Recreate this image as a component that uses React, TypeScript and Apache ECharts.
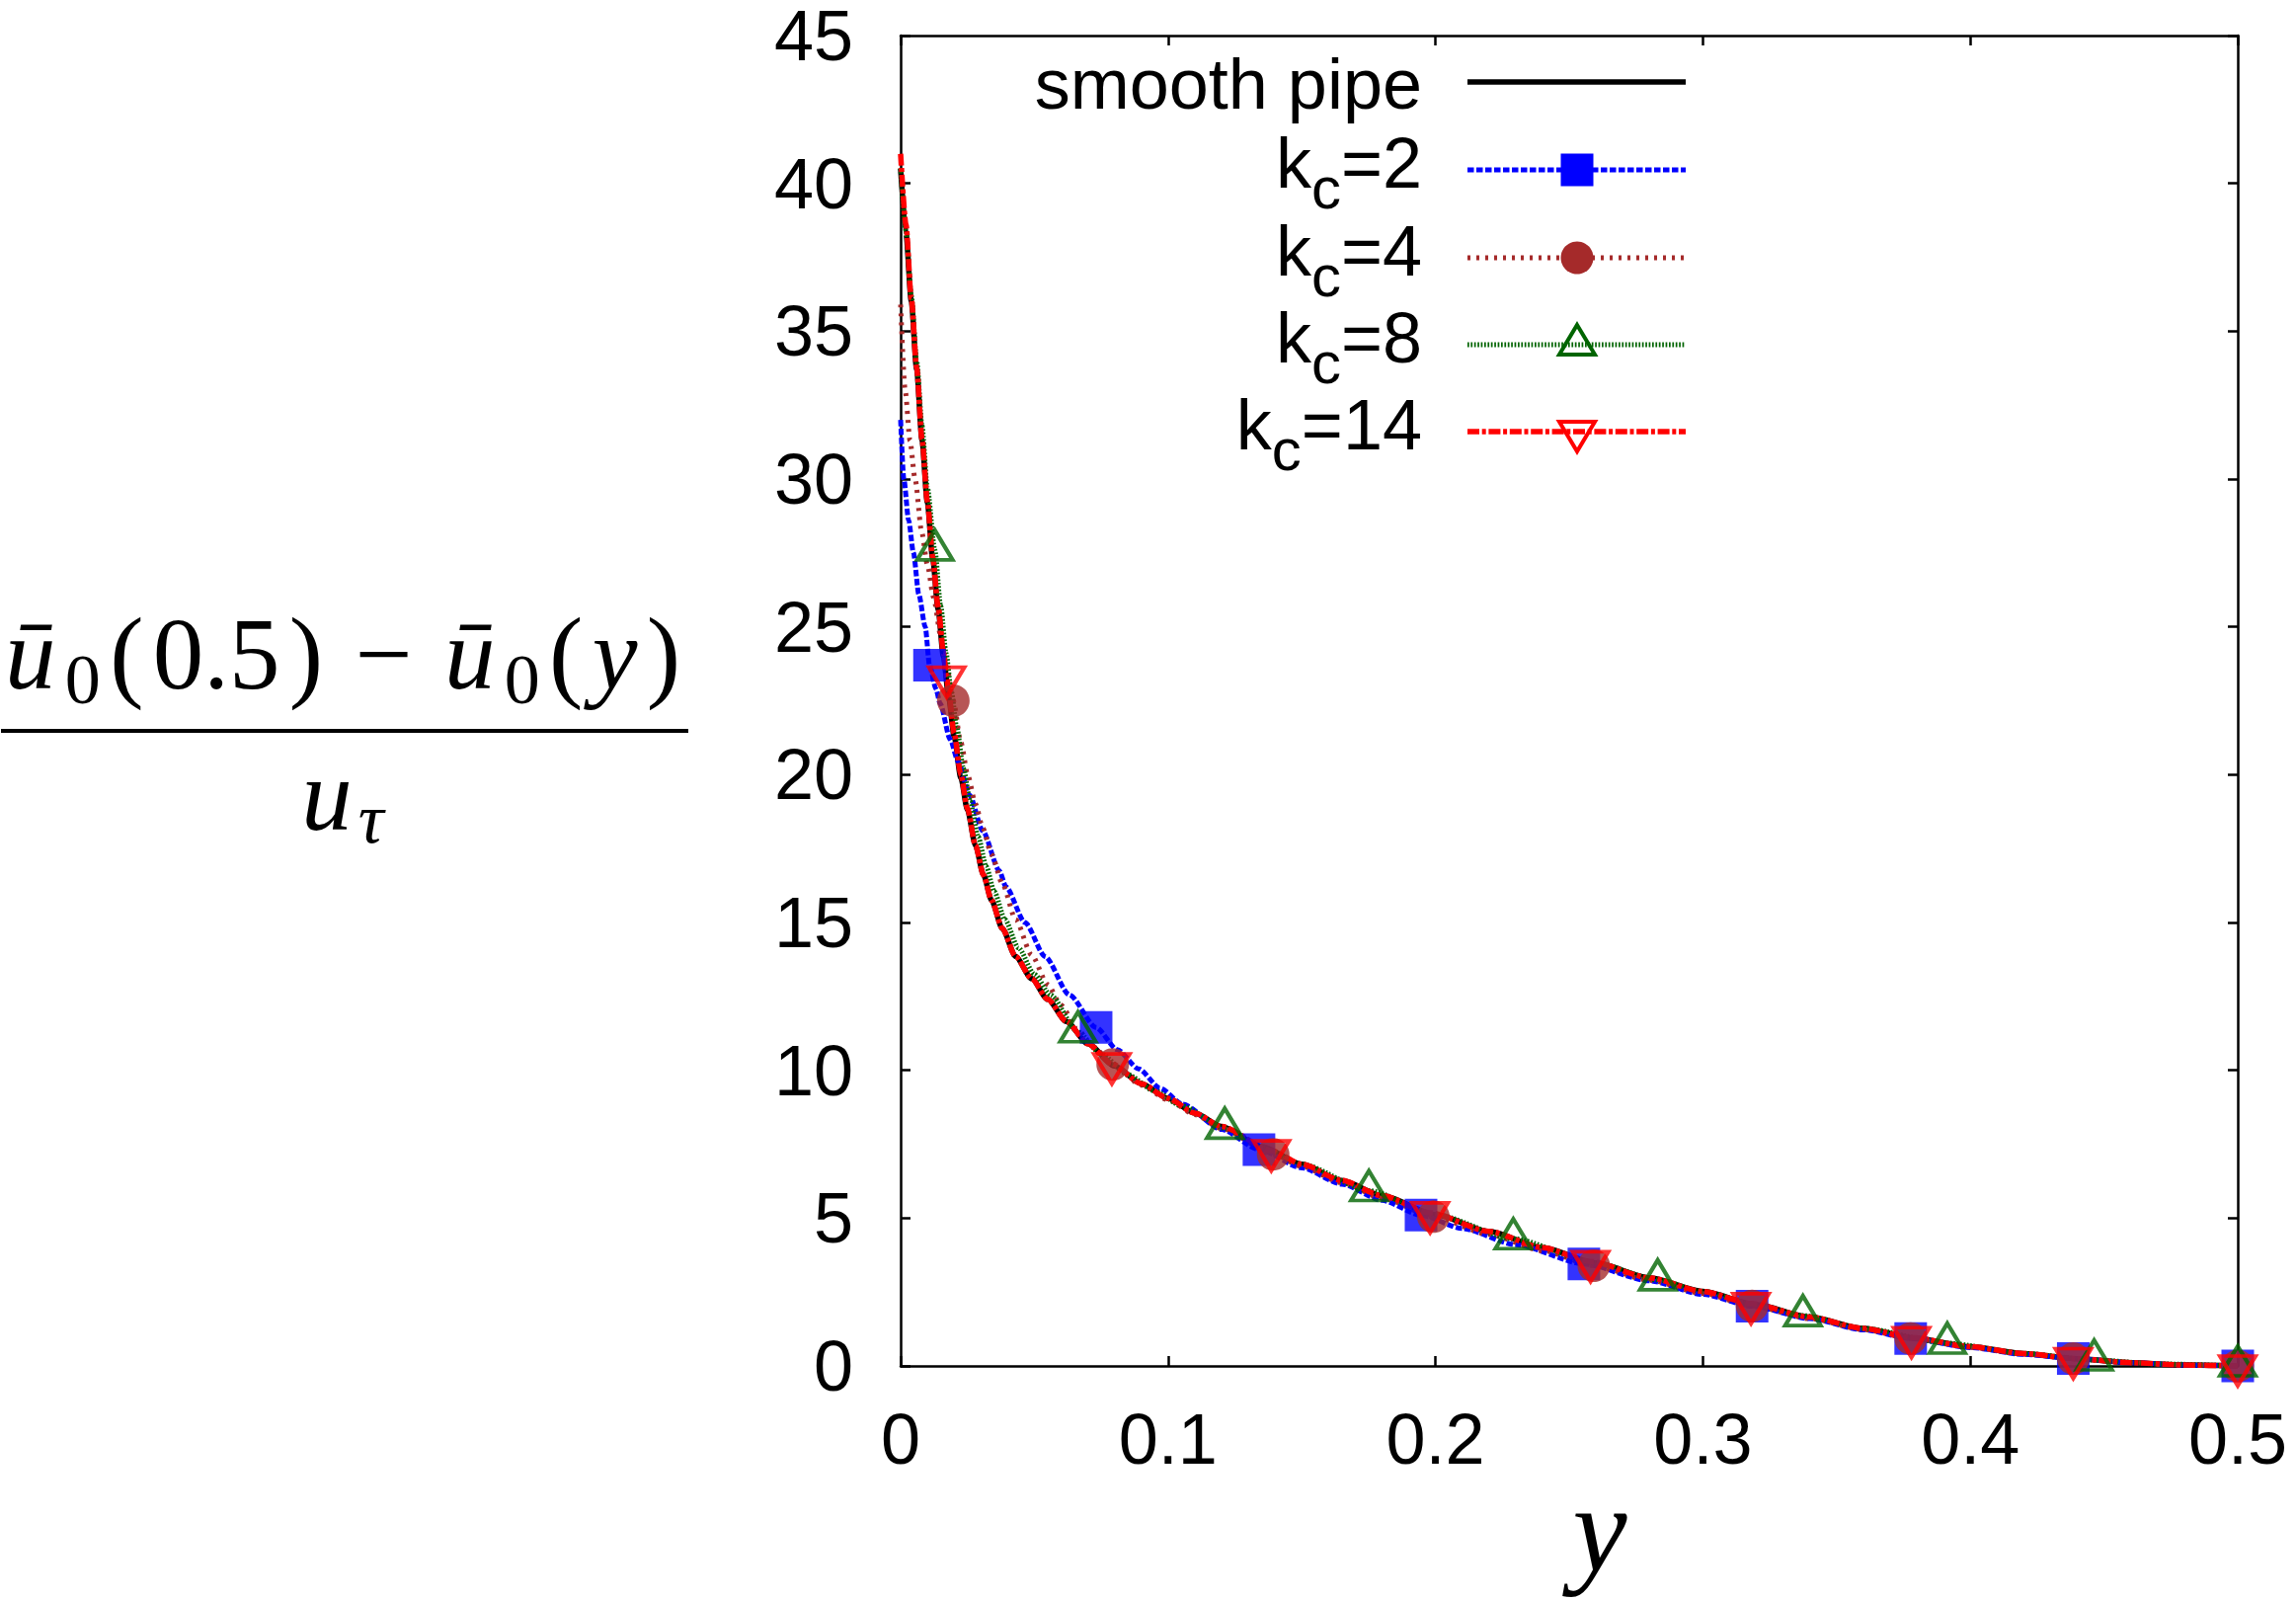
import React, { useEffect, useRef } from 'react';
import * as echarts from 'echarts';

const W = 2325;
const H = 1621;

// ---------------- data ----------------
const xTickLabels = ['0', '0.1', '0.2', '0.3', '0.4', '0.5'];
const yTickLabels = ['0', '5', '10', '15', '20', '25', '30', '35', '40', '45'];

const seriesNames = ['smooth pipe', 'kc=2', 'kc=4', 'kc=8', 'kc=14'];
const legendLabels = [
  { base: 'smooth pipe', sub: '', tail: '' },
  { base: 'k', sub: 'c', tail: '=2' },
  { base: 'k', sub: 'c', tail: '=4' },
  { base: 'k', sub: 'c', tail: '=8' },
  { base: 'k', sub: 'c', tail: '=14' },
];

const smoothPipe: number[][] = [
  [0, 40.5], [0.002, 38.3], [0.004, 36.0], [0.006, 33.7], [0.008, 31.3], [0.010, 29.2],
  [0.012, 27.3], [0.014, 25.6], [0.016, 24.0], [0.018, 22.6], [0.020, 21.3], [0.0225, 19.9],
  [0.025, 18.8], [0.028, 17.6], [0.031, 16.6], [0.034, 15.75], [0.038, 14.8], [0.043, 13.85],
  [0.049, 13.1], [0.055, 12.4], [0.062, 11.65], [0.070, 10.9], [0.080, 10.15], [0.090, 9.55],
  [0.100, 9.05], [0.110, 8.55], [0.120, 8.1], [0.135, 7.42], [0.150, 6.82], [0.165, 6.27],
  [0.180, 5.76], [0.200, 5.12], [0.220, 4.55], [0.240, 4.0], [0.260, 3.48], [0.280, 2.98],
  [0.300, 2.52], [0.320, 2.07], [0.340, 1.65], [0.360, 1.27], [0.380, 0.93], [0.400, 0.65],
  [0.420, 0.42], [0.440, 0.24], [0.460, 0.11], [0.480, 0.03], [0.500, 0],
];

const kc2Line: number[][] = [
  [0, 32.0], [0.0012, 30.0], [0.003, 28.6], [0.0048, 27.5], [0.0068, 26.1], [0.0092, 25.0],
  [0.0132, 22.9], [0.0148, 22.4], [0.0185, 21.2], [0.0215, 20.45], [0.0258, 19.3],
  [0.0307, 18.1], [0.0369, 16.75], [0.0394, 16.2], [0.0465, 15.0], [0.054, 13.85],
  [0.0631, 12.55], [0.081, 10.7], [0.089, 10.05], [0.097, 9.4], [0.1055, 8.85], [0.12, 8.0],
  [0.15, 6.7], [0.165, 6.15], [0.18, 5.6], [0.21, 4.65], [0.23, 4.1], [0.28, 2.88],
  [0.30, 2.42], [0.34, 1.6], [0.36, 1.22], [0.40, 0.62], [0.42, 0.39], [0.46, 0.11], [0.48, 0.03],
];
const kc2Marks: number[][] = [
  [0.0108, 23.7], [0.0731, 11.45], [0.134, 7.32], [0.1946, 5.1], [0.2555, 3.45],
  [0.3184, 2.02], [0.3777, 0.93], [0.4385, 0.25], [0.5, 0],
];

const kc4Line: number[][] = [
  [0, 35.9], [0.0017, 33.0], [0.0035, 31.3], [0.0054, 30.0], [0.0079, 28.2], [0.010, 27.1],
  [0.0123, 26.0], [0.015, 24.7], [0.0175, 23.5], [0.0225, 21.1], [0.0252, 19.95],
  [0.028, 19.0], [0.0307, 18.2], [0.034, 17.3], [0.0381, 16.3], [0.043, 15.1], [0.049, 13.9],
  [0.055, 12.9], [0.060, 12.2], [0.066, 11.4], [0.072, 10.8], [0.09, 9.5], [0.1, 9.0],
  [0.11, 8.5], [0.12, 8.03], [0.15, 6.75], [0.165, 6.2], [0.18, 5.68], [0.22, 4.45],
  [0.24, 3.9], [0.28, 2.9], [0.30, 2.45], [0.34, 1.6], [0.36, 1.23], [0.40, 0.63],
  [0.42, 0.4], [0.46, 0.11], [0.48, 0.03],
];
const kc4Marks: number[][] = [
  [0.0197, 22.5], [0.0793, 10.2], [0.1393, 7.16], [0.1992, 5.05], [0.2592, 3.39],
  [0.3184, 2.03], [0.3777, 0.93], [0.4385, 0.25], [0.5, 0],
];

const kc8Line: number[][] = [
  [0, 40.5], [0.002, 38.4], [0.004, 36.2], [0.006, 34.0], [0.008, 31.8], [0.010, 29.7],
  [0.015, 25.7], [0.017, 24.1], [0.019, 22.8], [0.021, 21.6], [0.0235, 20.2], [0.026, 19.1],
  [0.029, 17.9], [0.032, 16.9], [0.035, 16.05], [0.039, 15.1], [0.044, 14.15], [0.050, 13.25],
  [0.056, 12.55], [0.075, 10.55], [0.085, 9.85], [0.095, 9.3], [0.105, 8.8], [0.135, 7.42],
  [0.150, 6.82], [0.200, 5.12], [0.260, 3.48], [0.300, 2.52], [0.320, 2.07], [0.360, 1.27],
  [0.420, 0.42], [0.470, 0.07],
];
const kc8Marks: number[][] = [
  [0.0128, 27.6], [0.0663, 11.3], [0.1212, 8.04], [0.1751, 5.93], [0.2291, 4.3],
  [0.2831, 2.91], [0.3374, 1.7], [0.3914, 0.77], [0.4463, 0.2], [0.5, 0],
];

const kc14Line: number[][] = [
  [0, 41.0], [0.002, 38.6], [0.004, 36.1], [0.006, 33.75], [0.008, 31.35], [0.010, 29.25],
  [0.012, 27.35], [0.014, 25.7], [0.016, 24.15], [0.018, 22.75], [0.020, 21.4], [0.0225, 20.0],
  [0.025, 18.85], [0.028, 17.6], [0.031, 16.6], [0.034, 15.75], [0.038, 14.8], [0.043, 13.85],
  [0.049, 13.1], [0.055, 12.4], [0.062, 11.65], [0.070, 10.9], [0.090, 9.55], [0.100, 9.05],
  [0.110, 8.55], [0.120, 8.1], [0.150, 6.82], [0.165, 6.27], [0.180, 5.76], [0.220, 4.55],
  [0.240, 4.0], [0.280, 2.98], [0.300, 2.52], [0.340, 1.65], [0.360, 1.27], [0.400, 0.65],
  [0.420, 0.42], [0.460, 0.11], [0.480, 0.03],
];
const kc14Marks: number[][] = [
  [0.0172, 23.3], [0.079, 10.22], [0.1386, 7.28], [0.198, 5.18], [0.258, 3.53],
  [0.318, 2.11], [0.378, 0.96], [0.4385, 0.25], [0.5, 0],
];

// ---------------- styles ----------------
const colors = ['#000000', '#0000ff', '#a52a2a', '#006400', '#ff0000'];
const lineWidths = [5.5, 5, 5, 5, 5.5];
const dashes: (number[] | null)[] = [null, [6.5, 2.5], [3, 6], [1.7, 1.7], [12, 2.7, 4, 2.7]];

const SANS = 'Liberation Sans';
const SERIF = 'Liberation Serif';

function merge(line: number[][], marks: number[][]): number[][] {
  return [...line, ...marks].sort((a, b) => a[0] - b[0]);
}

const measureCtx = (() => {
  const c = document.createElement('canvas');
  return c.getContext('2d') as CanvasRenderingContext2D;
})();
function tw(text: string, size: number, family: string, italic = false): number {
  measureCtx.font = `${italic ? 'italic ' : ''}${size}px "${family}"`;
  return measureCtx.measureText(text).width;
}

function txt(text: string, x: number, baseline: number, size: number, family: string, opts: any = {}) {
  const central = family === SERIF ? 0.3375 : 0.3465;
  return {
    type: 'text',
    x,
    y: baseline - central * size,
    silent: true,
    style: {
      text,
      fontSize: size,
      fontFamily: family,
      fontStyle: opts.italic ? 'italic' : 'normal',
      fill: '#000',
      align: opts.align || 'left',
      verticalAlign: 'middle',
      lineHeight: Math.round(size * 0.8),
    },
  };
}

function buildGraphics(): any[] {
  const g: any[] = [];
  // --- y-axis label: fraction ---
  const F = 103;
  const S = 72;
  const numer = [
    { t: 'ū', it: true, s: F, dy: 0, pad: 0 },
    { t: '0', it: false, s: S, dy: 15, pad: 0 },
    { t: '(', it: false, s: F, dy: 0, pad: 0 },
    { t: '0.5', it: false, s: F, dy: 0, pad: 0 },
    { t: ')', it: false, s: F, dy: 0, pad: 0 },
    { t: '−', it: false, s: F, dy: 0, pad: 23 },
    { t: 'ū', it: true, s: F, dy: 0, pad: 0 },
    { t: '0', it: false, s: S, dy: 15, pad: 0 },
    { t: '(', it: false, s: F, dy: 0, pad: 0 },
    { t: 'y', it: true, s: F, dy: 0, pad: 0 },
    { t: ')', it: false, s: F, dy: 0, pad: 0 },
  ];
  const widths = numer.map((p) => tw(p.t, p.s, SERIF, p.it) + 2 * p.pad);
  const natural = widths.reduce((a, b) => a + b, 0);
  const target = 684;
  const extra = Math.max(0, (target - natural) / (numer.length - 1));
  const total = natural + extra * (numer.length - 1);
  let cx = 347 - total / 2;
  const numBase = 697;
  numer.forEach((p, i) => {
    g.push(txt(p.t, cx + p.pad, numBase + p.dy, p.s, SERIF, { italic: p.it }));
    cx += widths[i] + extra;
  });
  g.push({
    type: 'line',
    silent: true,
    shape: { x1: 1, y1: 740, x2: 697, y2: 740 },
    style: { stroke: '#000', lineWidth: 4 },
  });
  const wu = tw('u', F, SERIF, true);
  const wt = tw('τ', S, SERIF, true);
  const dTotal = wu + 6 + wt;
  const dx = 347 - dTotal / 2;
  g.push(txt('u', dx, 840, F, SERIF, { italic: true }));
  g.push(txt('τ', dx + wu + 6, 853, S, SERIF, { italic: true }));

  // --- x-axis label ---
  g.push(txt('y', 1620, 1590, 124, SERIF, { italic: true, align: 'center' }));

  // --- legend ---
  const rows = [83, 172, 261, 349, 437];
  const textRight = 1440;
  const lx1 = 1486;
  const lx2 = 1707;
  const mx = 1597;
  legendLabels.forEach((lab, i) => {
    const ry = rows[i];
    if (!lab.sub) {
      g.push(txt(lab.base, textRight, ry + 27, 72, SANS, { align: 'right' }));
    } else {
      const base = ry + 18;
      const wTail = tw(lab.tail, 72, SANS);
      const wSub = tw(lab.sub, 60, SANS);
      g.push(txt(lab.tail, textRight, base, 72, SANS, { align: 'right' }));
      g.push(txt(lab.sub, textRight - wTail, base + 21, 60, SANS, { align: 'right' }));
      g.push(txt(lab.base, textRight - wTail - wSub, base, 72, SANS, { align: 'right' }));
    }
    const ls: any = { stroke: colors[i], lineWidth: lineWidths[i] };
    if (dashes[i]) ls.lineDash = dashes[i];
    g.push({ type: 'line', silent: true, shape: { x1: lx1, y1: ry, x2: lx2, y2: ry }, style: ls });
    if (i === 1) {
      g.push({ type: 'rect', silent: true, shape: { x: mx - 16.5, y: ry - 16.5, width: 33, height: 33 }, style: { fill: colors[1] } });
    } else if (i === 2) {
      g.push({ type: 'circle', silent: true, shape: { cx: mx, cy: ry, r: 16.5 }, style: { fill: colors[2] } });
    } else if (i === 3) {
      const c = ry - 5;
      g.push({
        type: 'polygon', silent: true,
        shape: { points: [[mx, c - 15], [mx + 18, c + 15], [mx - 18, c + 15]] },
        style: { fill: 'none', stroke: colors[3], lineWidth: 4 },
      });
    } else if (i === 4) {
      const c = ry + 5;
      g.push({
        type: 'polygon', silent: true,
        shape: { points: [[mx - 18, c - 15], [mx + 18, c - 15], [mx, c + 15]] },
        style: { fill: 'none', stroke: colors[4], lineWidth: 4 },
      });
    }
  });
  return g;
}

function lineSeries(i: number, data: number[][]) {
  const ls: any = { color: colors[i], width: lineWidths[i], type: dashes[i] ? dashes[i] : 'solid' };
  return {
    name: seriesNames[i],
    type: 'line',
    data,
    showSymbol: false,
    symbol: 'none',
    smooth: 0.25,
    smoothMonotone: 'x',
    clip: false,
    lineStyle: ls,
    silent: true,
    z: 2,
  };
}

function markSeries(i: number, data: number[][], extra: any) {
  return {
    name: seriesNames[i] + ' marks',
    type: 'scatter',
    data,
    clip: false,
    silent: true,
    z: 2,
    ...extra,
  };
}

export default function App() {
  const ref = useRef<HTMLDivElement>(null);
  useEffect(() => {
    if (!ref.current) return;
    const chart = echarts.init(ref.current, null, { renderer: 'svg', width: W, height: H });
    const axisCommon = {
      type: 'value',
      axisLine: { show: true, onZero: false, lineStyle: { color: '#000', width: 2.5 } },
      axisTick: { show: true, inside: true, length: 10, lineStyle: { color: '#000', width: 2.5 } },
      splitLine: { show: false },
      minorTick: { show: false },
    };
    const option: any = {
      animation: false,
      backgroundColor: '#ffffff',
      grid: { left: 912, top: 29, width: 1354, height: 1354, containLabel: false },
      xAxis: [
        {
          ...axisCommon,
          min: 0, max: 0.5, interval: 0.1, position: 'bottom',
          axisLabel: {
            show: true, margin: 46, fontSize: 72, lineHeight: 56, fontFamily: SANS, color: '#000',
            formatter: (v: number) => xTickLabels[Math.round(v * 10)],
          },
        },
        {
          ...axisCommon,
          min: 0, max: 0.5, interval: 0.1, position: 'top',
          axisLabel: { show: false },
        },
      ],
      yAxis: [
        {
          ...axisCommon,
          min: 0, max: 45, interval: 5, position: 'left',
          axisLabel: {
            show: true, margin: 48, fontSize: 72, lineHeight: 56, fontFamily: SANS, color: '#000',
            formatter: (v: number) => yTickLabels[Math.round(v / 5)],
          },
        },
        {
          ...axisCommon,
          min: 0, max: 45, interval: 5, position: 'right',
          axisLabel: { show: false },
        },
      ],
      series: [
        lineSeries(0, smoothPipe),
        lineSeries(1, merge(kc2Line, kc2Marks)),
        markSeries(1, kc2Marks, { symbol: 'rect', symbolSize: 33, itemStyle: { color: colors[1] } }),
        lineSeries(2, merge(kc4Line, kc4Marks)),
        markSeries(2, kc4Marks, { symbol: 'circle', symbolSize: 33, itemStyle: { color: colors[2] } }),
        lineSeries(3, merge(kc8Line, kc8Marks)),
        markSeries(3, kc8Marks, {
          symbol: 'triangle', symbolSize: [36, 30], symbolOffset: [0, -5],
          itemStyle: { color: 'transparent', borderColor: colors[3], borderWidth: 4 },
        }),
        lineSeries(4, merge(kc14Line, kc14Marks)),
        markSeries(4, kc14Marks, {
          symbol: 'triangle', symbolSize: [36, 30], symbolRotate: 180, symbolOffset: [0, 5],
          itemStyle: { color: 'transparent', borderColor: colors[4], borderWidth: 4 },
        }),
      ],
      graphic: buildGraphics(),
    };
    chart.setOption(option);
    return () => {
      chart.dispose();
    };
  }, []);
  return (
    <div
      ref={ref}
      style={{ position: 'absolute', left: 0, top: 0, width: W, height: H, background: '#fff' }}
    />
  );
}
